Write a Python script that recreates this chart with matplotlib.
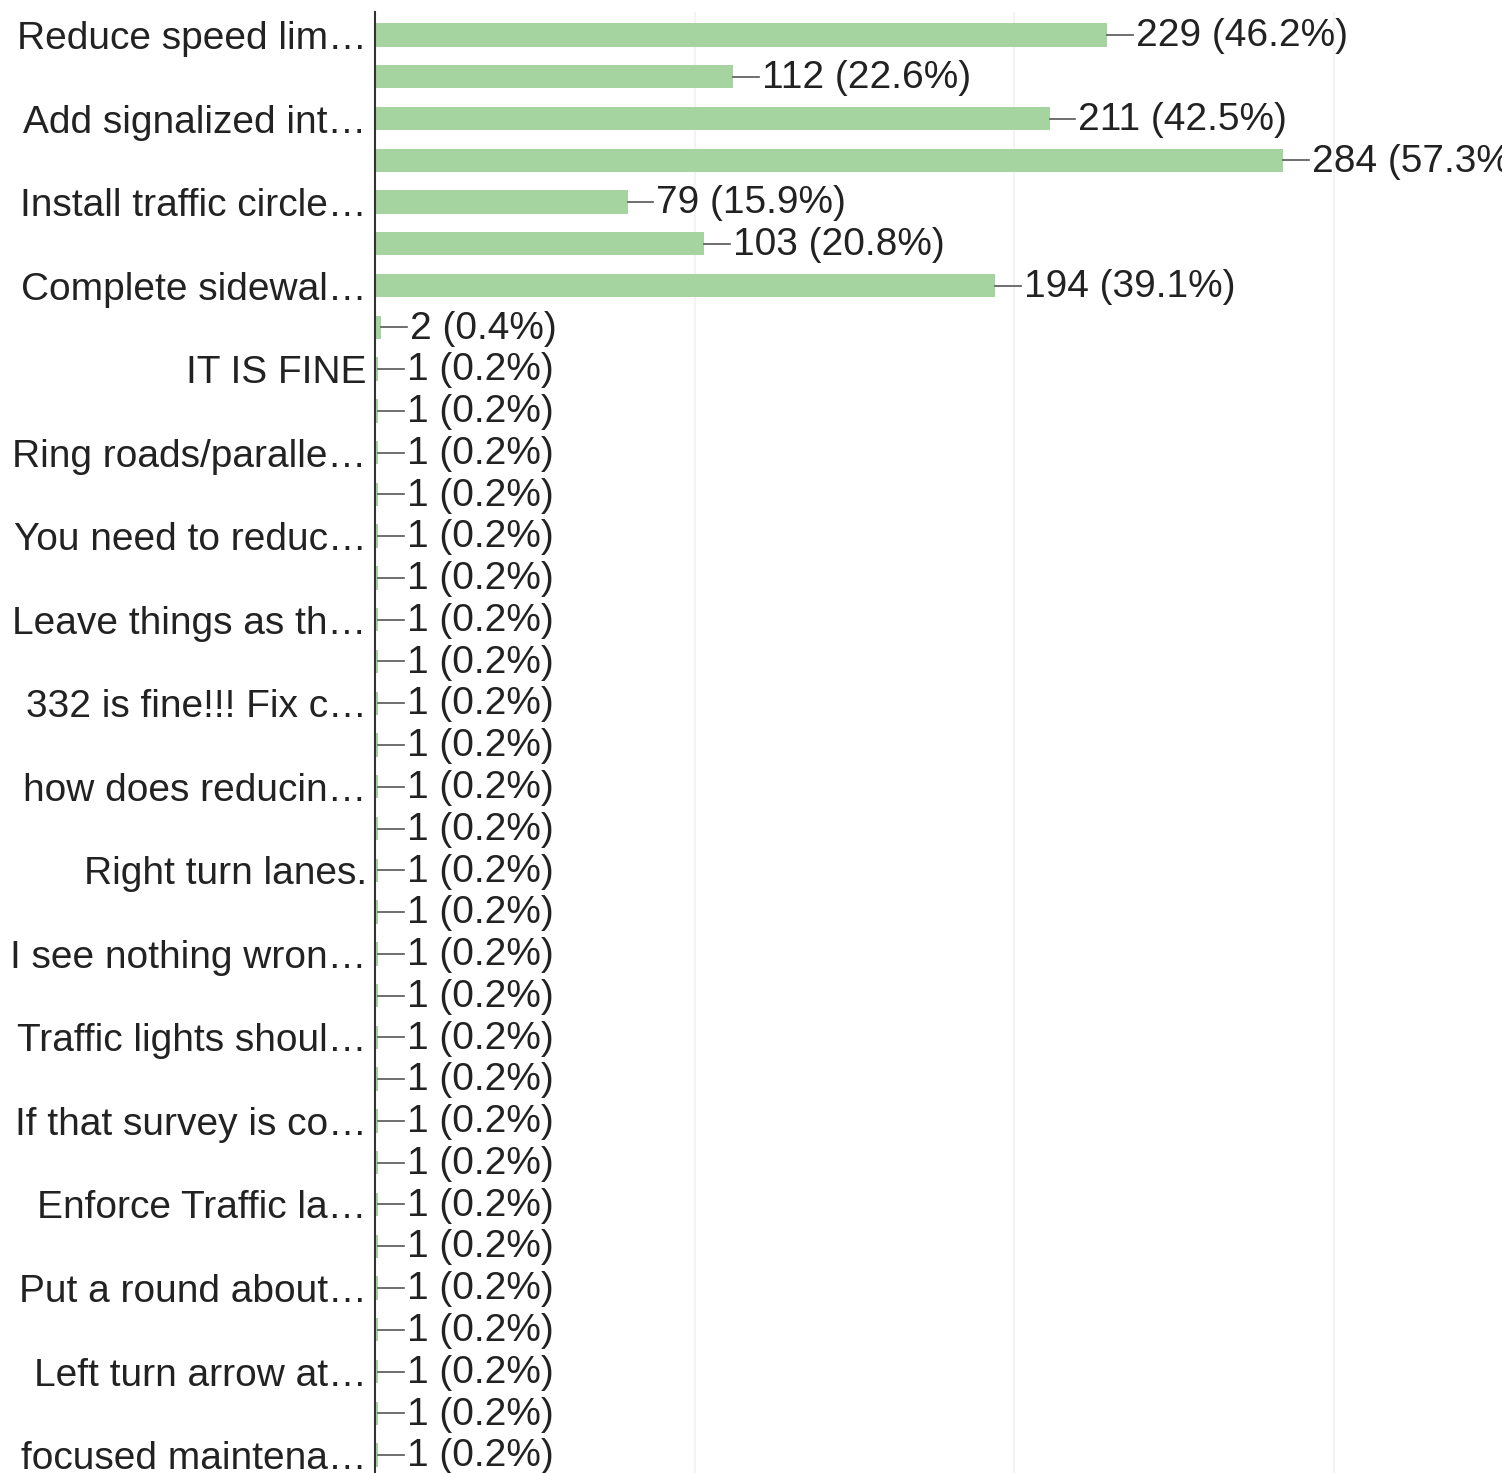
import matplotlib.pyplot as plt

plt.rcParams['font.family'] = ['Liberation Sans', 'DejaVu Sans']

# survey answers, one bar per row (labels only shown on every other row)
labels = [
    "Reduce speed lim\u2026", "", "Add signalized int\u2026", "",
    "Install traffic circle\u2026", "", "Complete sidewal\u2026", "",
    "IT IS FINE", "", "Ring roads/paralle\u2026", "",
    "You need to reduc\u2026", "", "Leave things as th\u2026", "",
    "332 is fine!!! Fix c\u2026", "", "how does reducin\u2026", "",
    "Right turn lanes.", "", "I see nothing wron\u2026", "",
    "Traffic lights shoul\u2026", "", "If that survey is co\u2026", "",
    "Enforce Traffic la\u2026", "", "Put a round about\u2026", "",
    "Left turn arrow at\u2026", "", "focused maintena\u2026",
]
counts = [229, 112, 211, 284, 79, 103, 194, 2] + [1] * 27
n_respondents = 496

bar_color = '#a6d4a0'
text_color = '#222222'

fig = plt.figure(figsize=(15.02, 14.73), dpi=100)
ax = fig.add_axes([375 / 1502, 0, 1 - 375 / 1502, 1 - 12 / 1473])

rows = list(range(len(counts)))
ax.barh(rows, counts, height=0.56, color=bar_color, zorder=2)

for y, c in zip(rows, counts):
    ax.plot([c, c + 8], [y, y], color='#555555', lw=1.2, zorder=3)
    pct = 100 * c / n_respondents
    ax.text(c + 9, y + 0.03, f"{c} ({pct:.1f}%)", va='center', ha='left',
            fontsize=28, color=text_color, clip_on=False)

ax.set_xlim(0, (1502 - 375) / 3.197)
ax.set_ylim(34.43, -0.55)
ax.set_yticks(rows)
ax.set_yticklabels(labels, fontsize=28, color=text_color)
ax.tick_params(axis='y', length=0, pad=6)
ax.set_xticks([100, 200, 300])
ax.tick_params(axis='x', length=0, labelbottom=False)
ax.grid(axis='x', color='#f3f3f3', lw=1.5, zorder=0)

for side in ['top', 'right', 'bottom']:
    ax.spines[side].set_visible(False)
ax.spines['left'].set_color('#333333')
ax.spines['left'].set_linewidth(1.5)

fig.savefig('out.png', dpi=100)
